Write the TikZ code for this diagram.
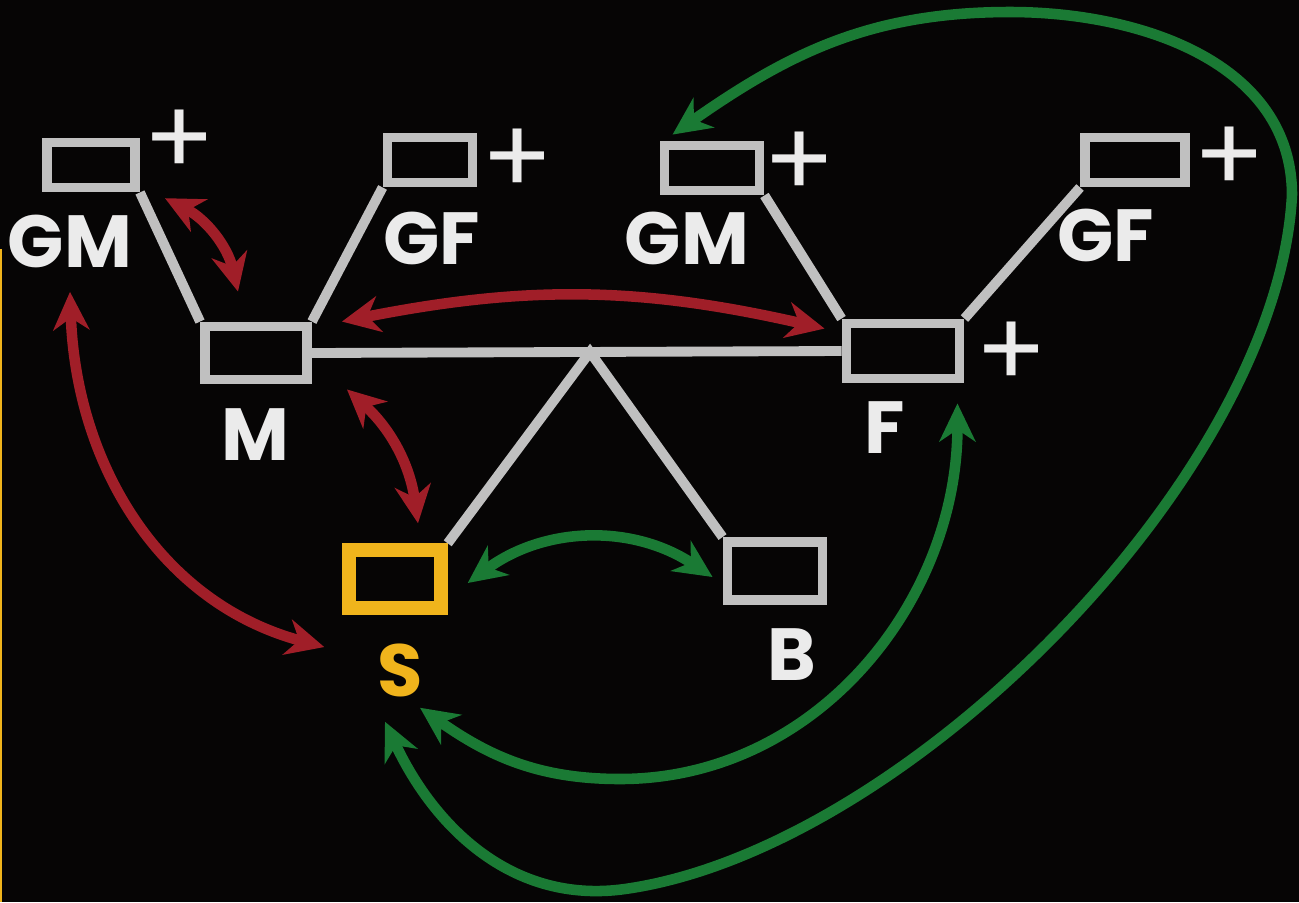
\documentclass[tikz,border=0pt]{standalone}
\usepackage{fontspec}
\setsansfont{Poppins}
\usetikzlibrary{arrows.meta}
\definecolor{board}{RGB}{6,5,5}
\definecolor{chalk}{RGB}{192,192,192}
\definecolor{chalkred}{RGB}{160,30,40}
\definecolor{chalkgreen}{RGB}{26,122,52}
\definecolor{chalkyellow}{RGB}{240,180,28}
\begin{document}
\begin{tikzpicture}[x=0.01cm,y=-0.01cm,
    >={Stealth[length=0.38cm,width=0.36cm,inset=0.12cm]},
    person/.style={draw=chalk,line width=2.8pt,minimum width=#1,minimum height=0.45cm,inner sep=0pt},
    tag/.style={text=white!92!black,font=\sffamily\bfseries\fontsize{21}{24}\selectfont},
    plus/.style={text=white!92!black,font=\sffamily\fontsize{30}{30}\selectfont},
    tie/.style={chalk,line width=2.8pt},
    redlink/.style={<->,chalkred,line width=3pt},
    greenlink/.style={<->,chalkgreen,line width=3pt}]
  \useasboundingbox (0,0) rectangle (1299,902);
  \fill[board] (0,0) rectangle (1299,902);
  \draw[chalkyellow,line width=0.6pt] (1,249) -- (1,902); % edge of the board

  % grandparents, with their names and the + marks
  \foreach \n/\x/\y/\w/\lx/\ly/\px/\py/\t in {gma/91/165/0.88cm/70/241/180/143/GM,
      gfa/430/160/0.85cm/432/238/518/162/GF, gmb/712/168/0.95cm/687/238/800/165/GM,
      gfb/1135/160/1.0cm/1106/235/1230/160/GF}{
    \node[person=\w] (\n) at (\x,\y) {};
    \node[tag] (\n-t) at (\lx,\ly) {\t};
    \node[plus] (\n-p) at (\px,\py) {+};
  }
  \node[person=1.02cm,minimum height=0.53cm] (m) at (256,353) {};
  \node[tag] (m-t) at (255,435) {M};
  \node[person=1.13cm,minimum height=0.55cm] (f) at (903,351) {};
  \node[tag] (f-t) at (885,428) {F};
  \node[plus] (f-p) at (1012,355) {+};
  \node[person=0.92cm,minimum height=0.58cm,draw=chalkyellow,line width=3.8pt] (s) at (395,579) {};
  \node[tag,text=chalkyellow] (s-t) at (400,670) {S};
  \node[person=0.95cm,minimum height=0.58cm] (b) at (775,571) {};
  \node[tag] (b-t) at (792,655) {B};

  % family lines
  \draw[tie] (gma.south east) -- (m.north west);
  \draw[tie] (gfa.south west) -- (m.north east);
  \draw[tie] (gmb.south east) -- (f.north west);
  \draw[tie] (gfb.south west) -- (f.north east);
  \draw[tie] (m.east) -- (f.west);
  \coordinate (apex) at (590,352);
  \draw[tie] (s.north east) -- (apex) -- (b.north west);

  % red links
  \draw[redlink] ([xshift=-0.15cm,yshift=-0.1cm]gma-p.south) to[bend left=25] ([xshift=-0.18cm,yshift=0.3cm]m.north);
  \draw[redlink] ([xshift=0.3cm]m.north east) to[bend left=12] ([xshift=-0.17cm,yshift=-0.1cm]f.north west);
  \draw[redlink] ([xshift=0.35cm,yshift=-0.05cm]m.south east) to[bend left=20] ([xshift=0.23cm,yshift=0.2cm]s.north);
  \draw[redlink] ([yshift=-0.12cm]gma-t.south) to[out=-88,in=165] ([xshift=-0.18cm,yshift=-0.68cm]s.west);

  % green links
  \draw[greenlink] ([xshift=0.2cm,yshift=-0.04cm]s.east) to[bend left=35] ([xshift=-0.1cm,yshift=-0.06cm]b.west);
  \coordinate (innerlow) at (620,779);
  \draw[greenlink] ([xshift=-0.07cm,yshift=-0.2cm]f.south east) to[out=-90,in=0] (innerlow)
    to[out=180,in=-35] ([xshift=0.25cm,yshift=-0.93cm]s.south);
  \coordinate (looptop) at (1010,12);
  \coordinate (loopright) at (1292,195);
  \coordinate (loopbottom) at (625,889);
  \draw[greenlink] ([xshift=0.13cm,yshift=0.06cm]gmb.north west) to[out=35,in=180] (looptop)
    to[out=0,in=90] (loopright) to[out=-93,in=8,looseness=0.75] (loopbottom)
    to[out=188,in=-65] ([xshift=-0.1cm,yshift=-1.07cm]s.south);
\end{tikzpicture}
\end{document}
